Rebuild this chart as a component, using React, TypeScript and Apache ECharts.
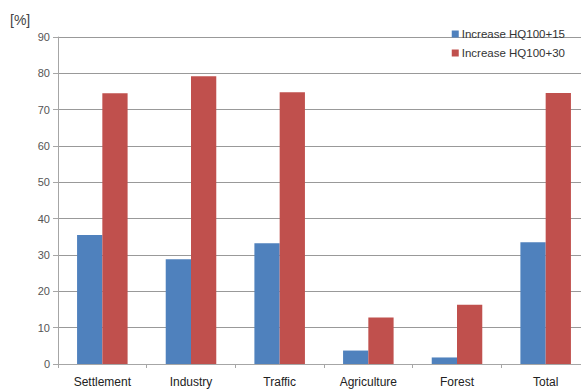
import React, { useEffect, useRef } from "react";
import * as echarts from "echarts";

const categories = ["Settlement", "Industry", "Traffic", "Agriculture", "Forest", "Total"];
const increase15 = [35.5, 28.8, 33.2, 3.7, 1.8, 33.5];
const increase30 = [74.5, 79.2, 74.8, 12.8, 16.3, 74.6];
const seriesNames = ["Increase HQ100+15", "Increase HQ100+30"];
const yUnitLabel = "[%]";

const FONT = "'Liberation Sans', Arial, sans-serif";

export default function App() {
  const ref = useRef<HTMLDivElement>(null);

  useEffect(() => {
    if (!ref.current) return;
    const chart = echarts.init(ref.current, null, { renderer: "svg" });
    chart.setOption({
      animation: false,
      backgroundColor: "#ffffff",
      textStyle: { fontFamily: FONT },
      grid: { left: 58, right: 0, top: 37, bottom: 26, containLabel: false },
      legend: {
        orient: "vertical",
        right: 20,
        top: 23,
        itemWidth: 7,
        itemHeight: 7,
        itemGap: 7,
        icon: "rect",
        textStyle: { fontSize: 11.5, color: "#333", fontFamily: FONT, padding: [0, 0, 0, -2] },
        data: seriesNames,
      },
      graphic: [
        {
          type: "text",
          left: 10,
          top: 13,
          style: { text: yUnitLabel, fontSize: 14, fill: "#444", fontFamily: FONT },
        },
      ],
      xAxis: {
        type: "category",
        data: categories,
        axisLine: { lineStyle: { color: "#a6a6a6", width: 1 } },
        axisTick: { show: true, length: 4, lineStyle: { color: "#a6a6a6" } },
        axisLabel: { color: "#222", fontSize: 12, margin: 12, fontFamily: FONT },
      },
      yAxis: {
        type: "value",
        min: 0,
        max: 90,
        interval: 10,
        axisLine: { show: true, lineStyle: { color: "#a6a6a6", width: 1 } },
        axisTick: { show: true, length: 5, inside: false, lineStyle: { color: "#a6a6a6" } },
        axisLabel: { color: "#555", fontSize: 11, margin: 8, fontFamily: FONT },
        splitLine: { show: true, lineStyle: { color: "#999999", width: 1 } },
      },
      series: [
        {
          name: seriesNames[0],
          type: "bar",
          data: increase15,
          itemStyle: { color: "#4f81bd" },
          barGap: "0%",
          barCategoryGap: "43%",
        },
        {
          name: seriesNames[1],
          type: "bar",
          data: increase30,
          itemStyle: { color: "#c0504d" },
          barGap: "0%",
          barCategoryGap: "43%",
        },
      ],
    });
    return () => chart.dispose();
  }, []);

  return (
    <div
      ref={ref}
      style={{ position: "fixed", left: 0, top: 0, width: 590, height: 390 }}
    />
  );
}
